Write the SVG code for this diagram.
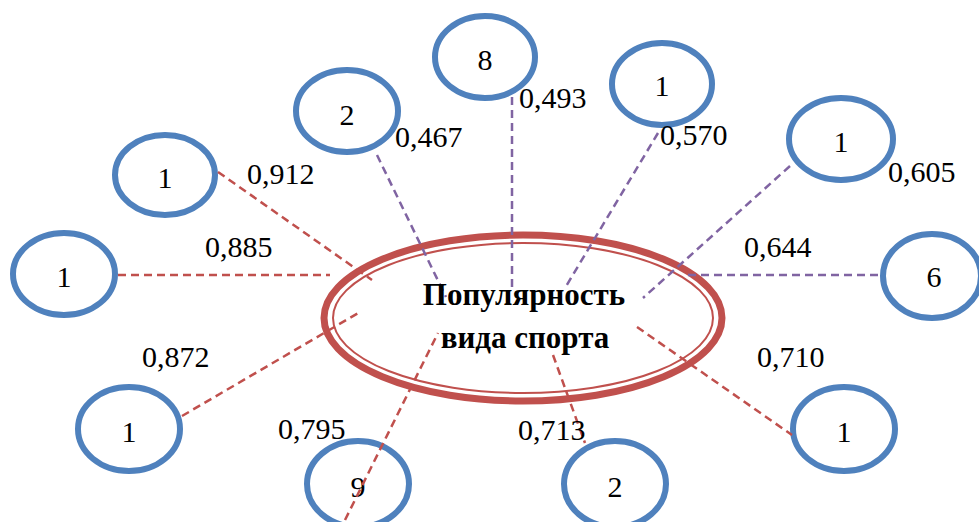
<svg xmlns="http://www.w3.org/2000/svg" width="979" height="522" viewBox="0 0 979 522">
<style>
.node{fill:none;stroke:#4F81BD;stroke-width:6}
.nt{font-family:"Liberation Serif","Times New Roman",serif;font-size:30px;fill:#000;text-anchor:middle}
.lbl{font-family:"Liberation Serif","Times New Roman",serif;font-size:30px;fill:#000}
.red{stroke:#C0504D;stroke-width:2.5;stroke-dasharray:8 5;fill:none}
.pur{stroke:#8064A2;stroke-width:2.5;stroke-dasharray:8 5;fill:none}
.ct{font-family:"Liberation Serif","Times New Roman",serif;font-size:31px;font-weight:bold;fill:#000;text-anchor:middle}
</style>
<rect width="979" height="522" fill="#fff"/>
<g id="center">
<ellipse cx="523" cy="318" rx="199" ry="83" fill="#fff" stroke="#C0504D" stroke-width="7"/>
<ellipse cx="523" cy="318" rx="190" ry="75" fill="none" stroke="#C0504D" stroke-width="2"/>
</g>
<g id="nodes">
<g id="n1"><ellipse class="node" cx="165" cy="175" rx="50" ry="40"/><text class="nt" x="165" y="188">1</text></g>
<g id="n2"><ellipse class="node" cx="64" cy="274" rx="51" ry="41"/><text class="nt" x="64" y="287">1</text></g>
<g id="n3"><ellipse class="node" cx="347" cy="111" rx="51" ry="41"/><text class="nt" x="347" y="125">2</text></g>
<g id="n4"><ellipse class="node" cx="485" cy="57" rx="50" ry="41"/><text class="nt" x="485" y="70">8</text></g>
<g id="n5"><ellipse class="node" cx="662" cy="84" rx="50" ry="41"/><text class="nt" x="662" y="96">1</text></g>
<g id="n6"><ellipse class="node" cx="841" cy="139" rx="52" ry="41"/><text class="nt" x="841" y="152">1</text></g>
<g id="n7"><ellipse class="node" cx="932" cy="276" rx="49" ry="42"/><text class="nt" x="934" y="287">6</text></g>
<g id="n8"><ellipse class="node" cx="844" cy="429" rx="51" ry="42"/><text class="nt" x="844" y="442">1</text></g>
<g id="n9"><ellipse class="node" cx="615" cy="484" rx="51" ry="43"/><text class="nt" x="615" y="497">2</text></g>
<g id="n10"><ellipse class="node" cx="358" cy="484" rx="51" ry="43"/><text class="nt" x="358" y="497">9</text></g>
<g id="n11"><ellipse class="node" cx="129" cy="429" rx="51" ry="42"/><text class="nt" x="129" y="442">1</text></g>
</g>
<g id="connectors">
<line class="red" x1="218" y1="172" x2="372" y2="280"/>
<line class="red" x1="118" y1="275" x2="330" y2="275"/>
<line class="red" x1="182" y1="416" x2="360" y2="312"/>
<line class="red" x1="345" y1="520" x2="438" y2="333"/>
<line class="red" x1="553" y1="355" x2="585" y2="443"/>
<line class="red" x1="637" y1="327" x2="792" y2="435"/>
<line class="pur" x1="688" y1="275" x2="883" y2="275"/>
<line class="pur" x1="790" y1="166" x2="643" y2="298"/>
<line class="pur" x1="658" y1="133" x2="565" y2="288"/>
<line class="pur" x1="512" y1="97" x2="512" y2="288"/>
<line class="pur" x1="377" y1="155" x2="446" y2="297"/>
</g>
<g id="labels">
<text class="lbl" x="247" y="184">0,912</text>
<text class="lbl" x="205" y="257">0,885</text>
<text class="lbl" x="395" y="147">0,467</text>
<text class="lbl" x="519" y="108">0,493</text>
<text class="lbl" x="660" y="145">0,570</text>
<text class="lbl" x="888" y="182">0,605</text>
<text class="lbl" x="744" y="257">0,644</text>
<text class="lbl" x="142" y="367">0,872</text>
<text class="lbl" x="278" y="439">0,795</text>
<text class="lbl" x="757" y="367">0,710</text>
<text class="lbl" x="518" y="440">0,713</text>
</g>
<g id="center-text">
<text class="ct" x="524" y="305">Популярность</text>
<text class="ct" x="525" y="348">вида спорта</text>
</g>
</svg>
